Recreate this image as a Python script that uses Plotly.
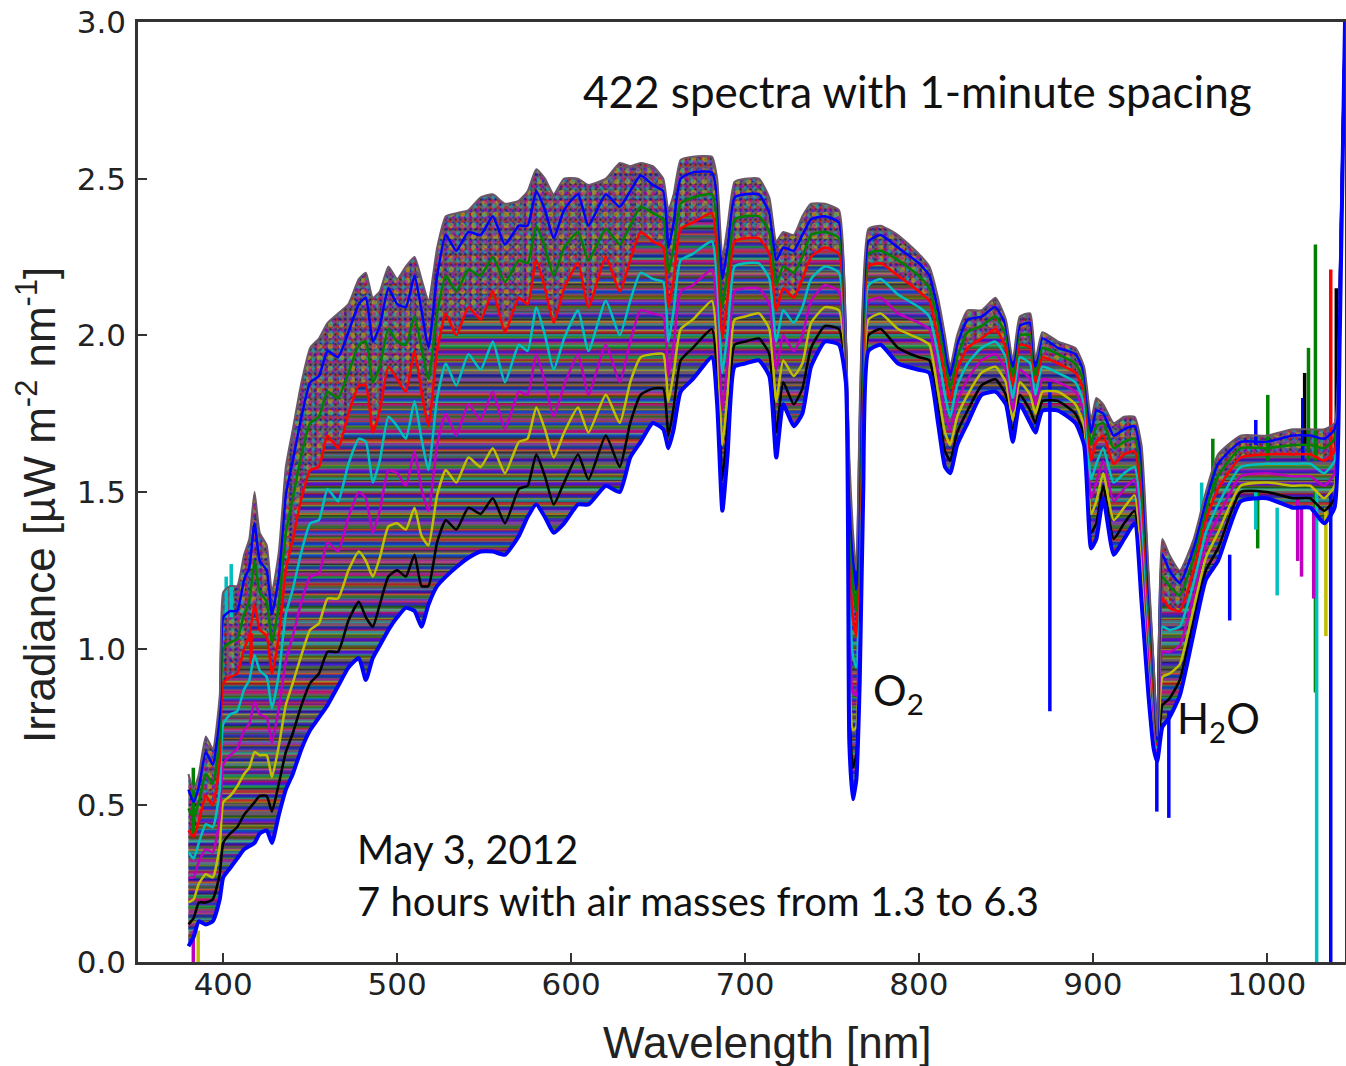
import plotly.graph_objects as go
import numpy as np

wavelength = [380,383,386,390,394,398,400,404,408,412,
 415,418,421,425,428,432,436,440,445,450,
 455,460,466,472,478,482,486,490,495,500,
 505,510,514,518,523,528,534,541,548,555,
 562,570,575,580,585,590,596,604,610,620,
 628,634,640,647,653,656,659,663,670,681,
 684,687,690,694,700,708,714,718,722,728,
 733,738,746,754,758,760,762,764,766,768,
 771,778,788,800,806,811,815,818,822,828,
 836,844,850,854,858,864,867,871,880,890,
 895,899,902,906,912,918,924,928,932,935,
 937,940,944,950,958,965,972,985,1000,1015,
 1025,1033,1039,1042,1045]

# irradiance in hundredths of a uW m-2 nm-1, highest air mass first
s_bottom = [5,8,13,12,13,20,27,30,33,36,
 37,38,41,42,38,47,55,60,68,74,
 78,82,88,94,97,90,97,101,106,110,
 113,112,107,114,120,123,126,129,131,131,
 130,136,142,146,142,137,140,146,146,152,
 150,161,166,172,170,164,170,182,186,193,
 178,144,162,190,191,192,187,161,178,171,
 175,190,198,197,185,70,52,58,90,150,
 195,197,191,189,188,172,158,156,165,172,
 181,182,178,166,178,172,169,176,176,172,
 165,132,135,148,130,135,140,115,85,68,
 64,75,78,85,105,122,128,147,148,145,
 145,140,145,200,300]
s_1 = [12,14,19,19,20,28,38,41,43,47,
 49,51,53,53,48,57,67,73,82,89,
 92,99,99,109,115,110,107,114,123,125,
 123,130,120,120,134,141,138,145,143,148,
 140,151,152,162,155,146,153,162,154,168,
 158,172,181,183,183,168,177,192,196,202,
 187,154,171,197,198,199,194,169,185,178,
 183,196,203,202,187,81,62,66,101,158,
 200,202,196,193,192,177,163,160,169,176,
 184,186,181,169,181,176,172,179,179,175,
 168,137,140,152,135,140,144,121,90,71,
 65,82,84,90,109,125,132,150,150,148,
 148,144,148,202,300]
s_2 = [19,20,25,28,27,37,51,53,56,60,
 62,67,66,66,59,69,82,89,98,106,
 108,116,116,125,131,128,123,129,139,140,
 138,145,136,133,149,157,153,161,158,164,
 156,166,167,177,170,161,169,177,169,181,
 172,185,193,194,194,179,188,202,205,211,
 197,165,181,205,206,207,202,179,192,187,
 191,204,209,208,189,94,74,75,113,167,
 205,207,202,199,197,182,169,165,174,181,
 188,190,185,173,185,181,175,182,182,178,
 171,143,147,156,141,145,149,128,95,75,
 66,91,92,95,113,129,137,152,153,152,
 152,148,152,205,300]
s_3 = [27,27,32,36,35,46,63,66,68,74,
 76,83,79,78,70,81,96,104,115,123,
 124,134,131,142,150,148,137,144,157,156,
 152,163,151,144,165,175,168,178,173,182,
 170,182,181,194,185,174,184,194,181,197,
 185,198,208,207,206,187,197,214,216,221,
 207,176,191,214,215,215,210,189,200,195,
 200,211,216,214,191,106,86,85,125,176,
 211,212,207,204,202,188,175,170,179,186,
 192,194,189,176,189,186,178,186,185,182,
 175,148,153,160,147,151,154,135,101,79,
 67,99,99,101,117,133,142,155,156,155,
 155,152,156,208,300]
s_4 = [35,33,38,44,43,55,76,79,80,87,
 90,98,93,91,81,92,111,119,131,140,
 141,151,147,159,167,166,153,160,174,171,
 167,179,167,157,180,191,184,194,189,198,
 185,197,195,209,200,189,199,208,195,211,
 200,211,220,218,217,198,208,224,226,230,
 217,188,201,222,223,223,218,198,208,204,
 209,218,222,220,193,119,98,94,138,185,
 216,218,213,209,206,194,181,174,184,191,
 196,198,193,180,193,191,181,190,188,185,
 178,154,159,164,153,156,158,142,107,83,
 68,107,106,107,121,137,146,158,159,159,
 159,156,160,211,300]
s_5 = [42,40,45,53,50,64,89,91,92,100,
 104,114,106,104,92,104,125,135,148,157,
 158,168,164,175,184,184,169,176,190,186,
 182,195,182,171,195,207,200,209,205,214,
 201,212,210,224,215,204,215,223,209,225,
 214,224,233,230,228,209,218,234,236,239,
 227,199,212,230,231,231,226,208,215,212,
 218,225,228,226,195,132,110,104,150,194,
 222,223,219,214,211,199,187,179,189,196,
 199,202,196,184,197,196,185,193,191,188,
 182,160,166,168,159,162,163,149,112,86,
 69,116,113,112,125,141,151,161,162,162,
 162,160,163,214,300]
s_6 = [49,46,51,60,57,72,100,102,103,111,
 115,128,118,115,102,114,137,148,162,172,
 174,182,180,188,197,198,185,190,202,198,
 197,206,196,186,207,219,214,221,219,225,
 217,224,223,235,228,219,228,233,224,234,
 229,235,241,239,237,220,228,242,244,245,
 236,209,220,237,238,238,233,216,222,220,
 225,232,233,231,197,143,121,112,160,202,
 226,227,224,219,215,204,192,183,193,201,
 203,206,200,187,200,200,187,196,194,191,
 185,165,171,172,164,166,167,155,117,90,
 70,123,120,117,129,144,155,164,164,165,
 165,164,167,216,300]
s_7 = [55,51,56,67,63,79,110,112,112,122,
 126,140,128,125,111,123,149,160,174,185,
 187,195,193,201,210,212,198,203,215,210,
 209,219,208,196,219,232,227,233,232,238,
 229,235,235,246,240,231,240,245,235,245,
 241,246,251,248,246,228,236,250,252,252,
 244,218,228,244,245,245,239,224,228,227,
 232,237,238,236,199,153,130,119,170,209,
 230,232,228,223,219,208,196,187,197,205,
 206,209,203,190,203,204,190,199,196,194,
 188,169,176,175,168,170,171,160,121,93,
 71,130,125,121,132,147,159,166,166,168,
 168,167,170,218,300]
s_top = [60,55,60,72,68,85,118,120,120,130,
 135,150,137,133,118,131,158,170,185,196,
 199,204,207,210,218,220,212,214,222,218,
 222,225,218,211,228,238,239,240,244,245,
 242,243,246,253,250,245,250,250,248,250,
 255,254,255,254,250,240,245,256,257,257,
 250,225,235,249,250,250,244,230,233,232,
 238,242,242,240,200,161,138,125,178,215,
 234,235,232,226,222,212,200,190,200,208,
 208,212,205,192,206,207,192,201,198,196,
 190,173,180,178,172,174,174,165,125,95,
 72,135,130,125,135,150,162,168,168,170,
 170,170,172,220,300]

# isolated spikes: wavelength, low end, high end, colour
spike_nm = [875.3,936.8,943.7,978.7,969,962.6,1000.6,994.8,993.7,993.7,1006,1017.8,1020,1020.7,1021.8,1024,1028,1028,1028.7,1027,1036.8,1040,1036.8,1034,382.8,385.6,382.8,401.7,404.6,416]
spike_lo = [0.80,0.48,0.46,1.09,1.50,1.35,1.60,1.32,1.38,1.65,1.17,1.28,1.23,1.60,1.65,1.60,1.60,0.86,0.0,1.16,1.60,1.60,0.0,1.04,0.0,0.0,0.40,1.10,1.10,0.95]
spike_hi = [1.85,0.70,0.80,1.30,1.67,1.53,1.81,1.50,1.50,1.73,1.45,1.48,1.45,1.80,1.88,1.96,2.29,1.50,1.50,1.45,2.21,2.15,1.50,1.45,0.10,0.10,0.62,1.23,1.27,1.05]
spike_col = ["b","b","b","b","g","c","g","g","c","b","c","m","m","b","k","g","g","g","c","m","r","k","b","y","m","y","g","c","c","r"]

palette = {"b":"#0000ff","g":"#008000","r":"#ff0000","c":"#00bfbf","m":"#bf00bf","y":"#bfbf00","k":"#000000"}
BAND = "#6a5868"
SPL = dict(shape="spline", smoothing=0.5)

x = wavelength
def v(s):
    return np.array(s) / 100

fig = go.Figure()

def band(lo, hi, **fill):
    fig.add_trace(go.Scatter(x=x, y=v(lo), mode="lines", line=dict(width=0, **SPL), hoverinfo="skip", showlegend=False))
    fig.add_trace(go.Scatter(x=x, y=v(hi), mode="lines", line=dict(width=0, **SPL), fill="tonexty", hoverinfo="skip", showlegend=False, **fill))

band(s_bottom, s_top, fillcolor=BAND)
# stripe texture where the individual spectra are resolved, speckle where they overlap
for col, size in (("k", 7), ("y", 8), ("r", 9), ("c", 11), ("m", 13), ("g", 10), ("b", 12)):
    band(s_bottom, s_5, fillcolor="rgba(0,0,0,0)",
         fillpattern=dict(shape="-", fgcolor=palette[col], bgcolor="rgba(0,0,0,0)", size=size, solidity=0.28))
for col, size in (("k", 5), ("r", 7), ("b", 6), ("y", 11), ("c", 9), ("m", 8)):
    band(s_5, s_top, fillcolor="rgba(0,0,0,0)",
         fillpattern=dict(shape=".", fgcolor=palette[col], bgcolor="rgba(0,0,0,0)", size=size, solidity=0.18))

for xi, lo, hi, c in zip(spike_nm, spike_lo, spike_hi, spike_col):
    fig.add_trace(go.Scatter(x=[xi, xi], y=[lo, hi], mode="lines", line=dict(color=palette[c], width=3.5),
                             hoverinfo="skip", showlegend=False))

spectra = [(s_1,"k"),(s_2,"y"),(s_3,"m"),(s_4,"c"),(s_5,"r"),(s_6,"g"),(s_7,"b")]
for s, c in spectra:
    fig.add_trace(go.Scatter(x=x, y=v(s), mode="lines", line=dict(color=palette[c], width=2.5, **SPL), showlegend=False))
fig.add_trace(go.Scatter(x=x, y=v(s_top), mode="lines", line=dict(color=BAND, width=2, **SPL), showlegend=False))
fig.add_trace(go.Scatter(x=x, y=v(s_bottom), mode="lines", line=dict(color=palette["b"], width=4, **SPL), showlegend=False))

CAL = "Lato"
def note(t, xv, yv, size=40):
    fig.add_annotation(x=xv, y=yv, text=t, showarrow=False, xanchor="left", yanchor="middle",
                       font=dict(family=CAL, size=size, color="#111"))
note("422 spectra with 1-minute spacing", 605.8, 2.78, 44)
note("May 3, 2012", 476, 0.36)
note("7 hours with air masses from 1.3 to 6.3", 476, 0.194)
note("O<sub>2</sub>", 772.5, 0.86, 42)
note("H<sub>2</sub>O", 947.5, 0.77, 42)

TITLE = dict(family="Liberation Sans", size=44, color="#222")
fig.add_annotation(xref="paper", yref="paper", x=(767-138)/1207, y=(962-1042)/940, text="Wavelength [nm]",
                   showarrow=False, xanchor="center", yanchor="middle", font=TITLE)
fig.add_annotation(xref="paper", yref="paper", x=(37-138)/1207, y=(962-505)/940, textangle=-90,
                   text="Irradiance [µW m<sup>-2</sup> nm<sup>-1</sup>]",
                   showarrow=False, xanchor="center", yanchor="middle", font=TITLE)

axis = dict(showline=True, linecolor="#333", linewidth=2.5, mirror=True, ticks="inside", ticklen=9,
            tickwidth=1.5, tickcolor="#333", showgrid=False, zeroline=False,
            tickfont=dict(family="DejaVu Sans", size=31, color="#222"))
fig.update_xaxes(range=[351, 1045], tickvals=[400,500,600,700,800,900,1000], ticklabelstandoff=-7, **axis)
fig.update_yaxes(range=[0, 3], tickvals=[0,0.5,1,1.5,2,2.5,3], tickformat=".1f", ticklabelstandoff=3, **axis)
fig.update_layout(width=1346, height=1066, margin=dict(l=138, r=1, t=22, b=104, autoexpand=False),
                  paper_bgcolor="white", plot_bgcolor="white", showlegend=False)
fig.write_html("out.html", post_script="document.body.style.margin='0';", config={"displayModeBar": False})
